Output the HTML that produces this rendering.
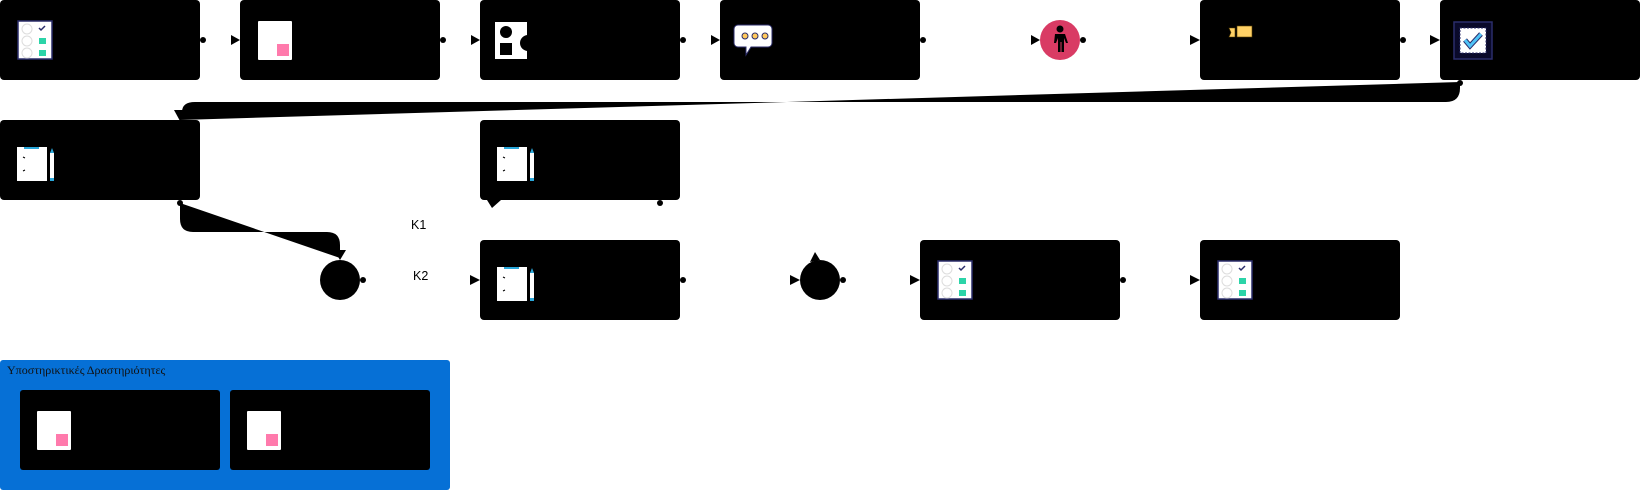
<!DOCTYPE html>
<html><head><meta charset="utf-8"><style>
body{margin:0;background:#fff;width:1642px;height:492px;overflow:hidden;font-family:"Liberation Sans",sans-serif}
svg{position:absolute;left:0;top:0}
</style></head><body>
<svg width="1642" height="492" viewBox="0 0 1642 492">
<defs>
<g id="survey">
 <rect x="0" y="0" width="34" height="38" fill="#fff" stroke="#2b2d6b" stroke-width="1.5"/>
 <circle cx="9" cy="8" r="5" fill="none" stroke="#ddd"/>
 <circle cx="9" cy="20" r="5" fill="none" stroke="#ddd"/>
 <circle cx="9" cy="32" r="5" fill="none" stroke="#ddd"/>
 <path d="M21 7 l2 2 l4 -4" stroke="#2b2d6b" stroke-width="1.5" fill="none"/>
 <rect x="21" y="17" width="7" height="6" fill="#2bd4a8"/>
 <rect x="21" y="29" width="7" height="6" fill="#2bd4a8"/>
</g>
<g id="page">
 <rect x="0" y="0" width="34" height="39" rx="1" fill="#fff"/>
 <rect x="19" y="23" width="12" height="12" fill="#ff7aac"/>
</g>
<g id="clip">
 <rect x="0" y="2" width="30" height="34" fill="#fff"/>
 <rect x="7" y="2" width="15" height="2" fill="#2aa7d9"/>
 <rect x="9" y="0" width="10" height="2" fill="#000"/>
 <path d="M6 12 l2 1 M6 26 l2 -1" stroke="#000" stroke-width="1"/>
 <rect x="33" y="8" width="4" height="28" fill="#fff"/>
 <rect x="33" y="33" width="4" height="3" fill="#2aa7d9"/>
 <path d="M33 8 l2 -5 l2 5 z" fill="#2aa7d9"/>
</g>
</defs>
<g fill="#000">
<rect x="0" y="0" width="200" height="80" rx="4"/>
<rect x="240" y="0" width="200" height="80" rx="4"/>
<rect x="480" y="0" width="200" height="80" rx="4"/>
<rect x="720" y="0" width="200" height="80" rx="4"/>
<rect x="1200" y="0" width="200" height="80" rx="4"/>
<rect x="1440" y="0" width="200" height="80" rx="4"/>
<rect x="0" y="120" width="200" height="80" rx="4"/>
<rect x="480" y="120" width="200" height="80" rx="4"/>
<rect x="480" y="240" width="200" height="80" rx="4"/>
<rect x="920" y="240" width="200" height="80" rx="4"/>
<rect x="1200" y="240" width="200" height="80" rx="4"/>
<circle cx="340" cy="280" r="20"/>
<ellipse cx="820" cy="280" rx="20" ry="20"/>
</g>
<circle cx="1060" cy="40" r="20" fill="#d93b64"/>
<g fill="#000">
<circle cx="1060" cy="29" r="3.5"/>
<path d="M1055 34 h10 l3 9 h-2 l-2 -5 v14 h-2.5 v-10 h-1 v10 h-2.5 v-14 l-2 5 h-2 z"/>
</g>
<use href="#survey" x="18" y="21"/>
<use href="#page" x="258" y="21"/>
<g>
<rect x="495" y="22" width="32" height="37" fill="#fff"/>
<circle cx="506" cy="32" r="6" fill="#000"/>
<rect x="500" y="43" width="12" height="12" fill="#000"/>
<circle cx="528" cy="43" r="8" fill="#000"/>
</g>
<g>
<path d="M738 25 h30 a4 4 0 0 1 4 4 v14 a4 4 0 0 1 -4 4 h-17 l-5 8 l0 -8 h-8 a4 4 0 0 1 -4 -4 v-14 a4 4 0 0 1 4 -4 z" fill="#fff" stroke="#2b2d6b" stroke-width="1"/>
<circle cx="745" cy="36" r="3" fill="#ffc95c" stroke="#2b2d6b"/>
<circle cx="755" cy="36" r="3" fill="#ffc95c" stroke="#2b2d6b"/>
<circle cx="765" cy="36" r="3" fill="#ffc95c" stroke="#2b2d6b"/>
</g>
<g fill="#ffd166" stroke="#5a4000" stroke-width="0.6">
<path d="M1229 28 h6 v9 h-6 l2 -4.5 z"/>
<rect x="1237" y="26" width="15" height="11"/>
</g>
<g>
<rect x="1454" y="22" width="38" height="37" fill="#0a0a2a" stroke="#2b2d6b" stroke-width="1.5"/>
<rect x="1460" y="28" width="26" height="25" fill="#fff" stroke="#2b2d6b" stroke-dasharray="2 1.5"/>
<path d="M1465 40 l5 6 l11 -12" stroke="#2b2d6b" stroke-width="5" fill="none"/>
<path d="M1465 40 l5 6 l11 -12" stroke="#4fc3f7" stroke-width="3" fill="none"/>
</g>
<use href="#clip" x="17" y="145"/>
<use href="#clip" x="497" y="145"/>
<use href="#clip" x="497" y="265"/>
<use href="#survey" x="938" y="261"/>
<use href="#survey" x="1218" y="261"/>
<g fill="#000">
<circle cx="203" cy="40" r="3"/><path d="M231 35 L240 40 L231 45Z"/>
<circle cx="443" cy="40" r="3"/><path d="M471 35 L480 40 L471 45Z"/>
<circle cx="683" cy="40" r="3"/><path d="M711 35 L720 40 L711 45Z"/>
<circle cx="923" cy="40" r="3"/><path d="M1031 35 L1040 40 L1031 45Z"/>
<circle cx="1083" cy="40" r="3"/><path d="M1190 35 L1200 40 L1190 45Z"/>
<circle cx="1403" cy="40" r="3"/><path d="M1430 35 L1440 40 L1430 45Z"/>
<circle cx="363" cy="280" r="3"/><path d="M470 275 L480 280 L470 285Z"/>
<circle cx="683" cy="280" r="3"/><path d="M790 275 L800 280 L790 285Z"/>
<circle cx="843" cy="280" r="3"/><path d="M910 275 L920 280 L910 285Z"/>
<circle cx="1123" cy="280" r="3"/><path d="M1190 275 L1200 280 L1190 285Z"/>
<circle cx="660" cy="203" r="3"/>
<path d="M487 200 L501 200 L492 208Z"/>
<path d="M810 262 L815 252 L820 260Z"/>
<circle cx="1460" cy="83" r="3"/>
<path d="M180 120 L1460 82 L1460 88 Q1460 102 1446 102 L195 102 Q182 102 182 112 Z"/>
<path d="M174 110 L187 110 L180 121Z"/>
<circle cx="180" cy="203" r="3"/>
<path d="M180 203 L340 258 L340 245 Q340 232 327 232 L193 232 Q180 232 180 219 Z"/>
<path d="M334 250 L346 250 L340 260Z"/>
</g>
<text x="411" y="229" font-size="12.5" font-family="Liberation Sans, sans-serif">K1</text>
<text x="413" y="280" font-size="12.5" font-family="Liberation Sans, sans-serif">K2</text>
<rect x="0" y="360" width="450" height="130" rx="3" fill="#0670d6"/>
<text x="7" y="374" font-size="12" font-family="Liberation Serif, serif" fill="#111">Υποστηρικτικές Δραστηριότητες</text>
<rect x="20" y="390" width="200" height="80" rx="3" fill="#000"/>
<rect x="230" y="390" width="200" height="80" rx="3" fill="#000"/>
<use href="#page" x="37" y="411"/>
<use href="#page" x="247" y="411"/>
</svg>
</body></html>
